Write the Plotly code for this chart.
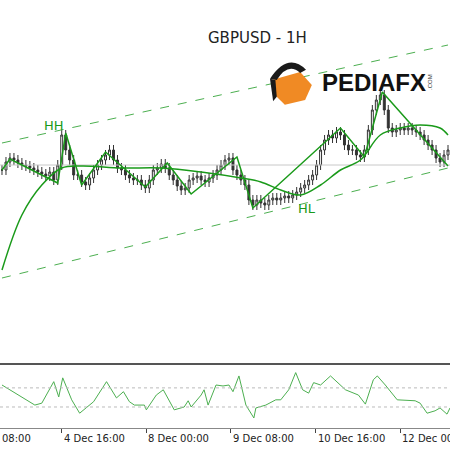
import plotly.graph_objects as go

close = [1.2860,1.2876,1.2884,1.2880,1.2874,1.2870,1.2868,1.2864,1.2860,1.2856,1.2852,1.2848,1.2856,1.2840,1.2870,1.2930,1.2900,1.2880,1.2850,1.2850,
         1.2836,1.2830,1.2844,1.2860,1.2870,1.2880,1.2890,1.2900,1.2880,1.2864,1.2860,1.2850,1.2844,1.2840,1.2840,1.2830,1.2824,1.2840,1.2860,1.2864,
         1.2872,1.2864,1.2850,1.2840,1.2828,1.2820,1.2824,1.2840,1.2844,1.2848,1.2840,1.2836,1.2844,1.2850,1.2860,1.2870,1.2880,1.2884,1.2860,1.2850,
         1.2840,1.2830,1.2800,1.2790,1.2800,1.2794,1.2790,1.2800,1.2804,1.2800,1.2804,1.2808,1.2804,1.2810,1.2816,1.2824,1.2830,1.2840,1.2850,1.2870,
         1.2900,1.2920,1.2930,1.2924,1.2936,1.2930,1.2910,1.2900,1.2900,1.2890,1.2886,1.2900,1.2940,1.2980,1.3000,1.3010,1.2980,1.2944,1.2936,1.2940,
         1.2944,1.2940,1.2944,1.2940,1.2936,1.2930,1.2920,1.2910,1.2900,1.2884,1.2876,1.2890,1.2900]
wick = 0.0010

zz_x = [0, 2, 14, 16, 20, 26, 36, 41.5, 47.5, 59, 63, 85, 91, 95.5, 112]
zz_y = [1.2860, 1.2882, 1.2834, 1.2934, 1.2830, 1.2896, 1.2826, 1.2874, 1.2812, 1.2886, 1.2784, 1.2944, 1.2886, 1.3016, 1.2868]

ma_x = [0, 5, 10, 15, 20, 30, 40, 50, 60, 65, 70, 75, 80, 85, 90, 95, 100, 105, 110, 112]
ma_y = [1.2660, 1.2770, 1.2830, 1.2864, 1.2868, 1.2864, 1.2864, 1.2856, 1.2844, 1.2836, 1.2820, 1.2810, 1.2830, 1.2860, 1.2880, 1.2930, 1.2944, 1.2950, 1.2944, 1.2930]

upper = [1.2914, 1.3110]
lower = [1.2644, 1.2864]
ref_level = 1.2870

osc_px = [0,33,40,52,57,61,70,78,92,105,115,122,128,133,143,145,155,162,173,183,187,190,200,203,207,215,222,228,232,237,238,245,253,255,265,275,280,288,295,302,308,313,320,330,345,358,365,373,377,385,397,415,420,427,435,440,447,450]
osc = [76,34,38,83,51,91,45,17,41,83,49,62,41,34,34,24,55,66,24,30,43,30,55,66,34,76,74,76,62,93,95,34,7,28,34,45,45,66,102,66,59,81,76,95,66,55,36,87,95,76,45,43,38,17,22,28,15,28]
osc_x = [p / 4 for p in osc_px]

tick_pos = [15, 36.25, 57.5, 78.75, 100]
tick_lab = ["4 Dec 16:00", "8 Dec 00:00", "9 Dec 08:00", "10 Dec 16:00", "12 Dec 00:00"]

idx = list(range(len(close)))
opn = [close[0]] + close[:-1]
high = [max(o, c) + wick for o, c in zip(opn, close)]
low = [min(o, c) - wick for o, c in zip(opn, close)]

fig = go.Figure()
G = "#1a9a1a"
fig.add_trace(go.Scatter(x=[-0.5, 112.5], y=[ref_level]*2, mode="lines", line=dict(color="#c8c8c8", width=1), hoverinfo="skip"))
fig.add_trace(go.Scatter(x=[0, 112], y=upper, mode="lines", line=dict(color="#4caf50", width=1, dash="dash")))
fig.add_trace(go.Scatter(x=[0, 112], y=lower, mode="lines", line=dict(color="#4caf50", width=1, dash="dash")))
fig.add_trace(go.Candlestick(x=idx, open=opn, high=high, low=low, close=close,
    increasing=dict(line=dict(color="#333", width=1), fillcolor="white"),
    decreasing=dict(line=dict(color="#333", width=1), fillcolor="#333"), whiskerwidth=0))
fig.add_trace(go.Scatter(x=ma_x, y=ma_y, mode="lines", line=dict(color=G, width=1.5, shape="spline")))
fig.add_trace(go.Scatter(x=zz_x, y=zz_y, mode="lines", line=dict(color=G, width=1.5)))
fig.add_trace(go.Scatter(x=osc_x, y=osc, mode="lines", line=dict(color="#4caf50", width=1), xaxis="x2", yaxis="y2"))
for lv in [30, 70]:
    fig.add_trace(go.Scatter(x=[-0.5, 112.5], y=[lv]*2, mode="lines", line=dict(color="#bbbbbb", width=1, dash="dot"), xaxis="x2", yaxis="y2"))

def A(text, x, y, size, color="#222", family="DejaVu Sans", xanchor="center", angle=0):
    return dict(text=text, x=x/450, y=1-y/450, xref="paper", yref="paper", xanchor=xanchor, yanchor="middle",
                showarrow=False, textangle=angle, font=dict(size=size, color=color, family=family))

ann = [A("GBPUSD - 1H", 257, 38, 15),
       A("HH", 54, 125, 13, G),
       A("HL", 307, 208, 13, G),
       A("<b>PEDIAFX</b>", 320, 82, 24, "#111", "Liberation Sans", "left"),
       A(".COM", 430, 82, 6, "#333", "Liberation Sans", "center", -90)]
ann.append(dict(text="08:00", x=-0.5, y=1-438/450, xref="x2", yref="paper", xanchor="left", yanchor="middle", showarrow=False, font=dict(size=10, color="#222", family="DejaVu Sans")))
for p, l in zip(tick_pos, tick_lab):
    ann.append(dict(text=l, x=p, y=1-438/450, xref="x2", yref="paper", xanchor="left", yanchor="middle", showarrow=False, font=dict(size=10, color="#222", family="DejaVu Sans")))

shapes = [dict(type="line", xref="paper", yref="paper", x0=0, x1=1, y0=1-364/450, y1=1-364/450, line=dict(color="#555", width=2)),
          dict(type="path", xref="paper", yref="paper",
               path="M 0.604 0.822 L 0.667 0.840 L 0.693 0.811 L 0.678 0.778 L 0.633 0.767 L 0.611 0.789 Z",
               fillcolor="#f08a24", line=dict(width=0)),
          dict(type="path", xref="paper", yref="paper",
               path="M 0.600 0.825 Q 0.640 0.885 0.680 0.845 L 0.667 0.838 Q 0.640 0.862 0.615 0.822 Z",
               fillcolor="#1a1a1a", line=dict(width=0)),
          dict(type="path", xref="paper", yref="paper",
               path="M 0.600 0.825 L 0.612 0.822 L 0.615 0.785 L 0.607 0.775 Z",
               fillcolor="#1a1a1a", line=dict(width=0))]

fig.update_layout(width=450, height=450, margin=dict(l=0, r=0, t=0, b=0), showlegend=False,
    plot_bgcolor="white", paper_bgcolor="white", annotations=ann, shapes=shapes,
    xaxis=dict(range=[-0.5, 112.5], domain=[0, 1], showticklabels=False, showgrid=False, zeroline=False, rangeslider=dict(visible=False), anchor="y"),
    yaxis=dict(range=[1.2510, 1.3200], domain=[1-345/450, 1], showticklabels=False, showgrid=False, zeroline=False),
    xaxis2=dict(range=[-0.5, 112.5], domain=[0, 1], anchor="y2", tickvals=tick_pos, ticktext=[""]*5, ticks="outside", ticklen=4, showgrid=False, zeroline=False, showline=True, linecolor="#888"),
    yaxis2=dict(range=[-14, 120], domain=[1-428/450, 1-364/450], showticklabels=False, showgrid=False, zeroline=False))
fig.write_html("out.html", config={"displayModeBar": False},
               post_script="document.body.style.margin='0';document.body.style.overflow='hidden';")
